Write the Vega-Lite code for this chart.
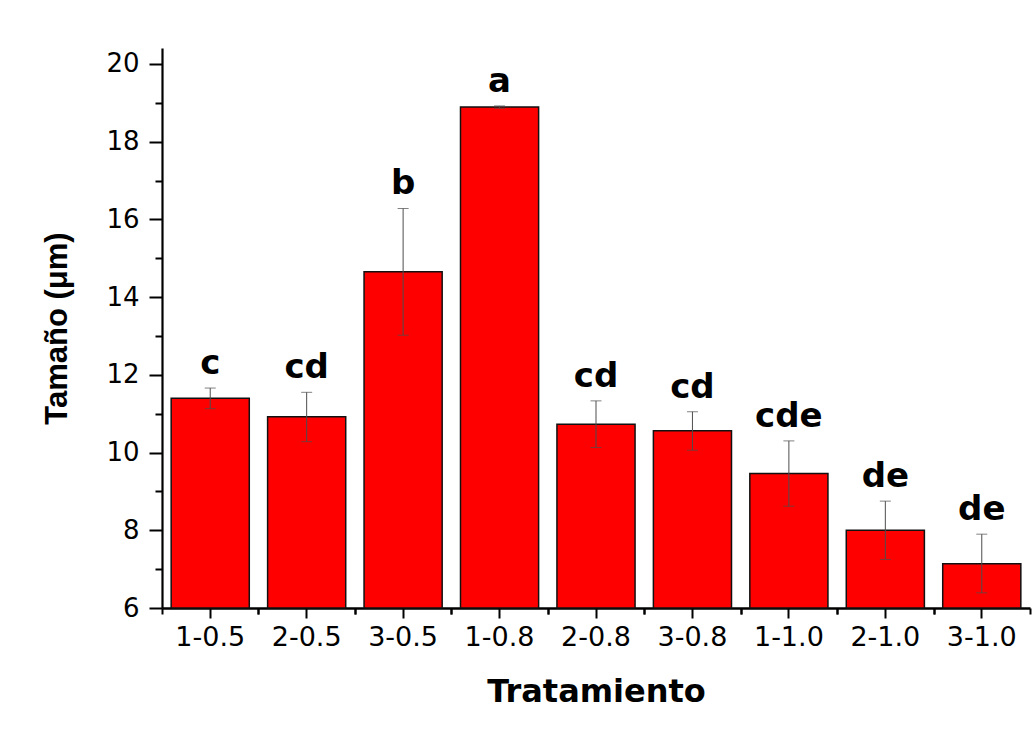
{
  "$schema": "https://vega.github.io/schema/vega-lite/v6.json",
  "width": 868,
  "height": 560,
  "autosize": {"type": "none"},
  "padding": {"left": 162, "top": 48, "right": 4, "bottom": 125},
  "background": "white",
  "config": {"view": {"stroke": null}, "axis": {"grid": false}},
  "data": {
    "values": [
      {"treatment": "1-0.5", "mean": 11.40, "lower": 11.13, "upper": 11.66, "group": "c"},
      {"treatment": "2-0.5", "mean": 10.92, "lower": 10.28, "upper": 11.55, "group": "cd"},
      {"treatment": "3-0.5", "mean": 14.65, "lower": 13.02, "upper": 16.28, "group": "b"},
      {"treatment": "1-0.8", "mean": 18.89, "lower": 18.86, "upper": 18.92, "group": "a"},
      {"treatment": "2-0.8", "mean": 10.73, "lower": 10.13, "upper": 11.33, "group": "cd"},
      {"treatment": "3-0.8", "mean": 10.56, "lower": 10.06, "upper": 11.05, "group": "cd"},
      {"treatment": "1-1.0", "mean": 9.46, "lower": 8.62, "upper": 10.30, "group": "cde"},
      {"treatment": "2-1.0", "mean": 8.00, "lower": 7.25, "upper": 8.75, "group": "de"},
      {"treatment": "3-1.0", "mean": 7.14, "lower": 6.39, "upper": 7.90, "group": "de"}
    ]
  },
  "layer": [
    {
      "mark": {"type": "bar", "color": "#ff0000", "stroke": "#111111", "strokeWidth": 1.5},
      "encoding": {
        "x": {
          "field": "treatment", "type": "nominal", "sort": null,
          "scale": {"paddingInner": 0.19, "paddingOuter": 0.095},
          "axis": {
            "orient": "bottom",
            "title": "Tratamiento",
            "titleFont": "DejaVu Sans", "titleFontWeight": "bold", "titleFontSize": 32, "titleColor": "black",
            "titlePadding": 26,
            "labelFont": "DejaVu Sans", "labelFontSize": 27, "labelColor": "black", "labelAngle": 0,
            "labelPadding": 6,
            "tickSize": 10, "tickWidth": 2, "tickColor": "black",
            "domainColor": "black", "domainWidth": 2.5
          }
        },
        "y": {
          "field": "mean", "type": "quantitative",
          "scale": {"domain": [6, 20.41], "nice": false, "zero": false},
          "axis": {
            "orient": "left",
            "values": [6, 8, 10, 12, 14, 16, 18, 20],
            "title": "Tamaño (μm)",
            "titleFont": "Liberation Sans", "titleFontWeight": "bold", "titleFontSize": 31, "titleColor": "black",
            "titlePadding": 32,
            "labelFont": "DejaVu Sans", "labelFontSize": 26, "labelColor": "black",
            "labelPadding": 10,
            "tickSize": 13, "tickWidth": 2, "tickColor": "black",
            "domainColor": "black", "domainWidth": 2.2
          }
        },
        "y2": {"datum": 6}
      }
    },
    {
      "mark": {"type": "rule", "color": "#4d4d4d", "strokeWidth": 1},
      "encoding": {
        "x": {
          "field": "treatment", "type": "nominal", "sort": null,
          "axis": {
            "orient": "bottom", "title": null, "labels": false, "domain": false,
            "tickSize": 6, "tickWidth": 2, "tickColor": "black", "tickOffset": -48.22
          }
        },
        "y": {
          "field": "lower", "type": "quantitative",
          "axis": {
            "orient": "left", "title": null, "labels": false, "domain": false,
            "values": [7, 9, 11, 13, 15, 17, 19],
            "tickSize": 7, "tickWidth": 2, "tickColor": "black"
          }
        },
        "y2": {"field": "upper"}
      }
    },
    {
      "mark": {"type": "tick", "color": "#4d4d4d", "size": 11, "thickness": 1},
      "encoding": {
        "x": {
          "field": "treatment", "type": "nominal", "sort": null,
          "axis": {
            "orient": "bottom", "title": null, "labels": false, "domain": false,
            "tickSize": 6, "tickWidth": 2, "tickColor": "black", "tickOffset": 48.22
          }
        },
        "y": {"field": "upper", "type": "quantitative", "axis": null}
      }
    },
    {
      "mark": {"type": "tick", "color": "#4d4d4d", "size": 11, "thickness": 1},
      "encoding": {
        "x": {"field": "treatment", "type": "nominal", "sort": null, "axis": null},
        "y": {"field": "lower", "type": "quantitative", "axis": null}
      }
    },
    {
      "mark": {"type": "text", "font": "DejaVu Sans", "fontWeight": "bold", "fontSize": 34, "color": "black", "baseline": "alphabetic", "dy": -14},
      "encoding": {
        "x": {"field": "treatment", "type": "nominal", "sort": null, "axis": null},
        "y": {"field": "upper", "type": "quantitative", "axis": null},
        "text": {"field": "group", "type": "nominal"}
      }
    }
  ],
  "resolve": {"axis": {"x": "independent", "y": "independent"}}
}
